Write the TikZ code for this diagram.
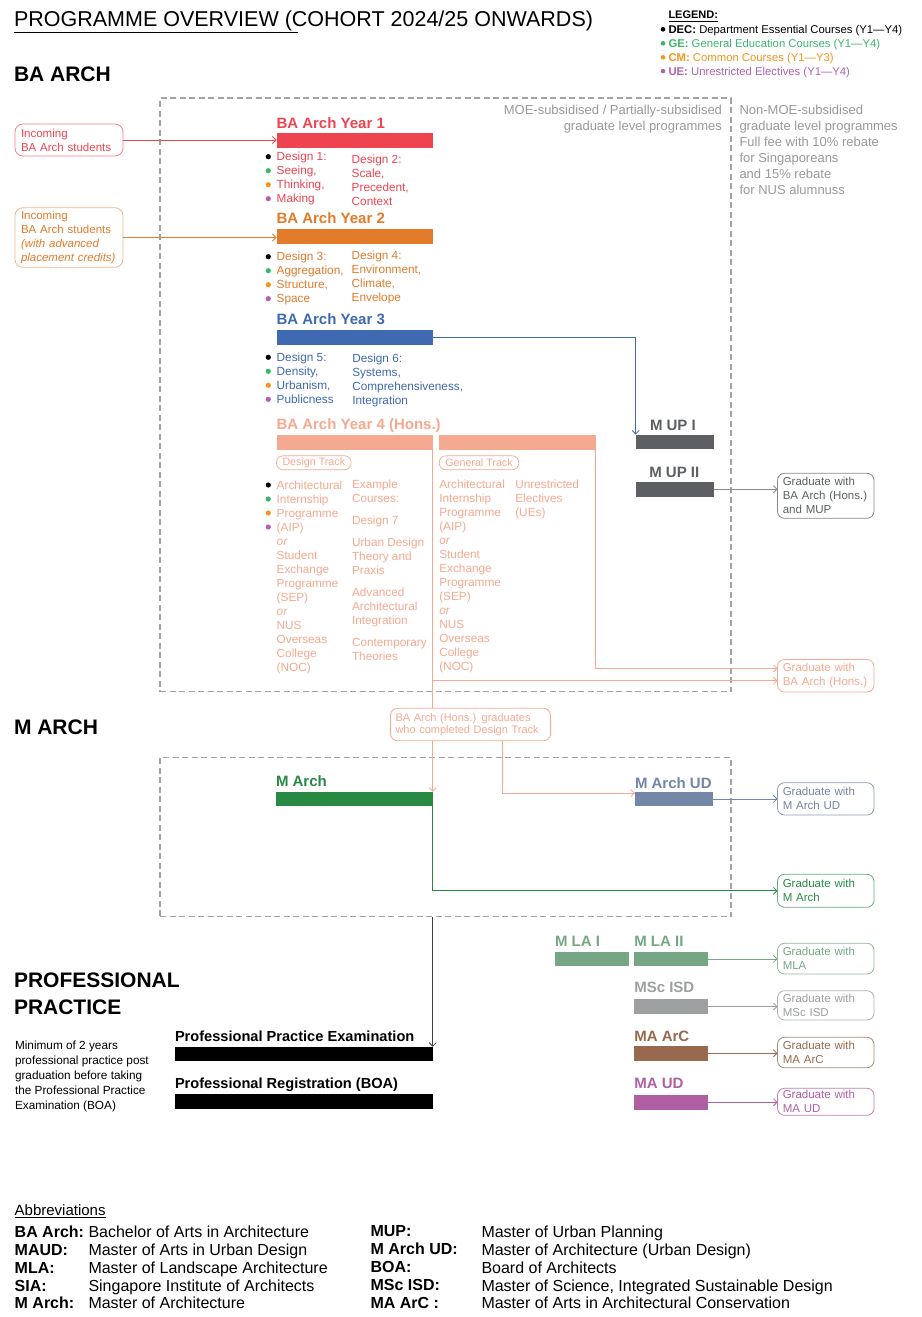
\documentclass[tikz,border=0pt]{standalone}
\usepackage{fontspec}
\setmainfont{Liberation Sans}
\usetikzlibrary{arrows.meta}
\newcommand{\myfs}[2]{\fontsize{#1}{#2}\selectfont}
\definecolor{cred}{HTML}{EE4450}
\definecolor{corange}{HTML}{E27B2A}
\definecolor{cblue}{HTML}{3F69B2}
\definecolor{csalmon}{HTML}{F6A991}
\definecolor{cmup}{HTML}{5C6062}
\definecolor{cgreen}{HTML}{268A45}
\definecolor{cslate}{HTML}{7386A5}
\definecolor{csage}{HTML}{76A785}
\definecolor{cmsc}{HTML}{9DA0A0}
\definecolor{cbrown}{HTML}{976A50}
\definecolor{cpurple}{HTML}{B05FA5}
\definecolor{lgreen}{HTML}{3CB66B}
\definecolor{lorange}{HTML}{F7941E}
\definecolor{lpurple}{HTML}{B061B2}
\definecolor{dashgray}{HTML}{A3A3A3}
\definecolor{txtgray}{HTML}{9A9A9A}
\definecolor{boxgray}{HTML}{8A8A8A}
\begin{document}
\begin{tikzpicture}[x=1pt,y=-1pt,
  every node/.style={inner sep=0pt, outer sep=0pt},
  arr/.style={-{Straight Barb[length=3.5pt,width=7pt]}, line width=0.8pt},
  bar/.style={anchor=north west, minimum height=14.5pt},
  ttl/.style={anchor=base west, font=\myfs{15}{18}\bfseries},
  lst/.style={anchor=north west, align=left, font=\myfs{11.8}{14}},
  grad/.style={anchor=north west, draw, line width=0.8pt, rounded corners=7pt, align=left, text width=86pt, inner xsep=5.25pt, inner ysep=1pt, minimum width=96.5pt, font=\myfs{11.5}{14}},
  inbox/.style={anchor=north west, draw, line width=0.8pt, rounded corners=8pt, align=left, text width=96pt, inner xsep=6pt, inner ysep=1pt, font=\myfs{11.5}{14}},
  pill/.style={draw, line width=0.7pt, rounded corners=6.5pt, anchor=west, minimum height=14pt, inner xsep=6pt, font=\myfs{10.7}{12}},
  dbox/.style={anchor=north west, draw=dashgray, line width=1.4pt, dash pattern=on 6pt off 3.5pt},
  head/.style={anchor=base west, font=\myfs{21}{26.7}\bfseries},
]
\fill[white] (0,0) rectangle (921,1317);
\useasboundingbox (0,0) rectangle (921,1317);

% dashed frames
\node[dbox, minimum width=571pt, minimum height=593.5pt] (box1) at (160,98) {};
\node[dbox, minimum width=571pt, minimum height=159pt] (box2) at (160,757.7) {};

% title and legend
\node[anchor=base west, font=\myfs{21.5}{24}] (title) at (14,26) {PROGRAMME OVERVIEW (COHORT 2024/25 ONWARDS)};
\draw[line width=1.2pt] ([yshift=-6.3pt]title.base west) -- ++(284,0);
\node[anchor=base west, font=\myfs{11}{14}\bfseries] (legt) at (668.5,19) {LEGEND:};
\draw[line width=0.7pt] ([yshift=-2pt]legt.base west) -- ([yshift=-2pt]legt.base east);
\node[lst, font=\myfs{11.3}{14}] (leg) at (668.5,25.1) {\textbf{DEC:} Department Essential Courses (Y1—Y4)\\
{\color{lgreen}\textbf{GE:} General Education Courses (Y1—Y4)}\\
{\color{lorange}\textbf{CM:} Common Courses (Y1—Y3)}\\
{\color{lpurple}\textbf{UE:} Unrestricted Electives (Y1—Y4)}};
\fill[black] (663,29.3) circle (2.3pt);
\fill[lgreen] (663,43.3) circle (2.3pt);
\fill[lorange] (663,57.3) circle (2.3pt);
\fill[lpurple] (663,71.1) circle (2.3pt);

% headings
\node[head] (hba) at (14,81.5) {BA ARCH};
\node[head] (hma) at (14,734.5) {M ARCH};
\node[head, anchor=north west, align=left] (hpp) at (14,973.2) {PROFESSIONAL\\PRACTICE};

% grey header notes
\node[anchor=north east, align=right, font=\myfs{13}{15.5}, text=txtgray] (moe) at (722,105.2) {MOE-subsidised / Partially-subsidised\\graduate level programmes};
\node[anchor=north west, align=left, font=\myfs{13}{16}, text=txtgray] (nmoe) at (739.5,105.2) {Non-MOE-subsidised\\graduate level programmes\\Full fee with 10\% rebate\\for Singaporeans\\and 15\% rebate\\for NUS alumnuss};

% incoming
\node[inbox, draw=cred!65, text=cred, minimum height=32pt] (inc1) at (15,124) {Incoming\\BA Arch students};
\node[inbox, draw=corange!55, text=corange, minimum height=59.6pt] (inc2) at (15,207.7) {Incoming\\BA Arch students\\\textit{(with advanced}\\\textit{placement credits)}};

% Year 1
\node[ttl, text=cred] (t1) at (276.5,128) {BA Arch Year 1};
\node[bar, fill=cred, minimum width=156.2pt] (y1) at (276.5,133.3) {};
\node[lst, text=cred] (y1a) at (276.7,152.3) {Design 1:\\Seeing,\\Thinking,\\Making};
\node[lst, text=cred] (y1b) at (351.7,155) {Design 2:\\Scale,\\Precedent,\\Context};
% Year 2
\node[ttl, text=corange] (t2) at (276.5,223.7) {BA Arch Year 2};
\node[bar, fill=corange, minimum width=156.2pt] (y2) at (276.5,229.3) {};
\node[lst, text=corange] (y2a) at (276.7,252.3) {Design 3:\\Aggregation,\\Structure,\\Space};
\node[lst, text=corange] (y2b) at (351.7,251.3) {Design 4:\\Environment,\\Climate,\\Envelope};
% Year 3
\node[ttl, text=cblue] (t3) at (276.5,324.4) {BA Arch Year 3};
\node[bar, fill=cblue, minimum width=156.2pt] (y3) at (276.5,330.3) {};
\node[lst, text=cblue] (y3a) at (276.7,352.9) {Design 5:\\Density,\\Urbanism,\\Publicness};
\node[lst, text=cblue] (y3b) at (352.3,353.9) {Design 6:\\Systems,\\Comprehensiveness,\\Integration};
% Year 4
\node[ttl, text=csalmon] (t4) at (276.5,429.4) {BA Arch Year 4 (Hons.)};
\node[bar, fill=csalmon, minimum width=156.2pt] (y4a) at (276.5,435) {};
\node[bar, fill=csalmon, minimum width=156.7pt] (y4b) at (439,435) {};
\node[pill, draw=csalmon, text=csalmon] (pdt) at (276.5,462.8) {Design Track};
\node[pill, draw=csalmon, text=csalmon] (pgt) at (439.3,462.8) {General Track};
\node[lst, text=csalmon] (y4c) at (276.7,480.6) {Architectural\\Internship\\Programme\\(AIP)\\\textit{or}\\Student\\Exchange\\Programme\\(SEP)\\\textit{or}\\NUS\\Overseas\\College\\(NOC)};
\node[lst, text=csalmon] (y4d) at (352,479.9) {Example\\Courses:\\[8pt]Design 7\\[8pt]Urban Design\\Theory and\\Praxis\\[8pt]Advanced\\Architectural\\Integration\\[8pt]Contemporary\\Theories};
\node[lst, text=csalmon] (y4e) at (439.3,479.9) {Architectural\\Internship\\Programme\\(AIP)\\\textit{or}\\Student\\Exchange\\Programme\\(SEP)\\\textit{or}\\NUS\\Overseas\\College\\(NOC)};
\node[lst, text=csalmon] (y4f) at (515.3,479.9) {Unrestricted\\Electives\\(UEs)};

% bullets
\foreach \yy in {156.7,256.7,357.3,485} {
  \fill[black] (268.3,\yy) circle (2.6pt);
  \fill[lgreen] (268.3,\yy+14) circle (2.6pt);
  \fill[lorange] (268.3,\yy+28) circle (2.6pt);
  \fill[lpurple] (268.3,\yy+42) circle (2.6pt);
}

% MUP
\node[ttl, text=cmup] (tm1) at (650,430.3) {M UP I};
\node[bar, fill=cmup, minimum width=78.6pt] (mup1) at (635.7,434.5) {};
\node[ttl, text=cmup] (tm2) at (649.3,477.6) {M UP II};
\node[bar, fill=cmup, minimum width=78.6pt] (mup2) at (635.7,482) {};

% graduate boxes
\node[grad, draw=boxgray, text=cmup, minimum height=45pt] (gmup) at (777.5,473.3) {Graduate with\\BA Arch (Hons.)\\and MUP};
\node[grad, draw=csalmon, text=csalmon, minimum height=32.5pt] (gbah) at (777.5,659.5) {Graduate with\\BA Arch (Hons.)};
\node[grad, draw=cslate!80, text=cslate, minimum height=32.3pt] (gmaud) at (777.5,782.7) {Graduate with\\M Arch UD};
\node[grad, draw=cgreen!70, text=cgreen, minimum height=33pt] (gmarch) at (777.5,874.3) {Graduate with\\M Arch};
\node[grad, draw=csage!80, text=csage, minimum height=30.7pt] (gmla) at (777.5,943.3) {Graduate with\\MLA};
\node[grad, draw=cmsc!80, text=cmsc, minimum height=29.3pt] (gmsc) at (777.5,990.7) {Graduate with\\MSc ISD};
\node[grad, draw=cbrown!80, text=cbrown, minimum height=30.4pt] (gmaarc) at (777.5,1037.3) {Graduate with\\MA ArC};
\node[grad, draw=cpurple!80, text=cpurple, minimum height=27pt] (gmaud2) at (777.5,1088.3) {Graduate with\\MA UD};

% design track graduates
\node[anchor=north west, draw=csalmon, text=csalmon, fill=white, rounded corners=7pt, line width=0.8pt, align=left, text width=150pt, inner xsep=5pt, minimum height=32.4pt, font=\myfs{11}{12}] (dtg) at (390.5,708.3) {BA Arch (Hons.) graduates\\who completed Design Track};

% M Arch
\node[ttl, text=cgreen] (tma) at (276,786) {M Arch};
\node[bar, fill=cgreen, minimum width=156.7pt] (march) at (276,791.7) {};
\node[ttl, text=cslate] (tmaud) at (635,788) {M Arch UD};
\node[bar, fill=cslate, minimum width=78.3pt] (maud) at (635,791.7) {};

% other master programmes
\node[ttl, text=csage] (tmla1) at (555,946) {M LA I};
\node[bar, fill=csage, minimum width=74.3pt] (mla1) at (555,951.7) {};
\node[ttl, text=csage] (tmla2) at (634.3,946) {M LA II};
\node[bar, fill=csage, minimum width=73.4pt] (mla2) at (634.3,951.7) {};
\node[ttl, text=cmsc] (tmsc) at (634.3,992) {MSc ISD};
\node[bar, fill=cmsc, minimum width=73.4pt] (msc) at (634.3,999.3) {};
\node[ttl, text=cbrown] (tmaarc) at (634.3,1041.3) {MA ArC};
\node[bar, fill=cbrown, minimum width=73.4pt] (maarc) at (634.3,1046) {};
\node[ttl, text=cpurple] (tmaud2) at (634.3,1088.6) {MA UD};
\node[bar, fill=cpurple, minimum width=73.4pt] (maud2) at (634.3,1095) {};

% professional practice
\node[ttl, font=\myfs{14.6}{18}\bfseries] (tppe) at (175,1041.2) {Professional Practice Examination};
\node[bar, fill=black, minimum width=257.7pt] (ppe) at (175,1046.7) {};
\node[ttl, font=\myfs{14.6}{18}\bfseries] (tpr) at (175,1088.5) {Professional Registration (BOA)};
\node[bar, fill=black, minimum width=257.7pt] (pr) at (175,1094) {};
\node[lst, font=\myfs{11.8}{15}] (ppnote) at (15,1040.6) {Minimum of 2 years\\professional practice post\\graduation before taking\\the Professional Practice\\Examination (BOA)};

% abbreviations
\node[anchor=base west, font=\myfs{15}{18}] (abt) at (14.7,1215.3) {Abbreviations};
\draw[line width=0.7pt] ([yshift=-2.5pt]abt.base west) -- ([yshift=-2.5pt]abt.base east);
\node[lst, font=\myfs{16}{17.9}\bfseries] (ab1) at (14.7,1225.7) {BA Arch:\\MAUD:\\MLA:\\SIA:\\M Arch:};
\node[lst, font=\myfs{16}{17.9}] (ab2) at (88.5,1225.7) {Bachelor of Arts in Architecture\\Master of Arts in Urban Design\\Master of Landscape Architecture\\Singapore Institute of Architects\\Master of Architecture};
\node[lst, font=\myfs{16}{17.9}\bfseries] (ab3) at (370.6,1225.7) {MUP:\\M Arch UD:\\BOA:\\MSc ISD:\\MA ArC :};
\node[lst, font=\myfs{16}{17.9}] (ab4) at (481.5,1225.7) {Master of Urban Planning\\Master of Architecture (Urban Design)\\Board of Architects\\Master of Science, Integrated Sustainable Design\\Master of Arts in Architectural Conservation};

% connectors
\draw[arr, cred] (inc1.east) -- (inc1.east -| y1.west);
\draw[arr, corange] (inc2.east) -- (inc2.east -| y2.west);
\draw[arr, cblue] (y3.east) -| (mup1.north west);
\draw[arr, boxgray] (mup2.east) -- (mup2.east -| gmup.west);
\draw[line width=0.8pt, csalmon] (y4a.south east) -- (dtg.north -| y4a.south east);
\draw[arr, csalmon] (y4a.south east |- 0,680.7) -- (gbah.west |- 0,680.7);
\draw[arr, csalmon] (y4b.south east) |- (gbah.west |- 0,668.3);
\draw[arr, csalmon] (dtg.south -| march.north east) -- (march.north east);
\draw[arr, csalmon] (dtg.south -| 502.7,0) |- ([yshift=-1.5pt]maud.north west);
\draw[arr, cgreen] (march.south east) |- (gmarch.west);
\draw[arr, cslate] (maud.east) -- (maud.east -| gmaud.west);
\draw[arr, black!75] (box2.south -| ppe.north east) -- (ppe.north east);
\draw[arr, csage] (mla2.east) -- (mla2.east -| gmla.west);
\draw[arr, cmsc] (msc.east) -- (msc.east -| gmsc.west);
\draw[arr, cbrown] (maarc.east) -- (maarc.east -| gmaarc.west);
\draw[arr, cpurple] (maud2.east) -- (maud2.east -| gmaud2.west);
\end{tikzpicture}
\end{document}
